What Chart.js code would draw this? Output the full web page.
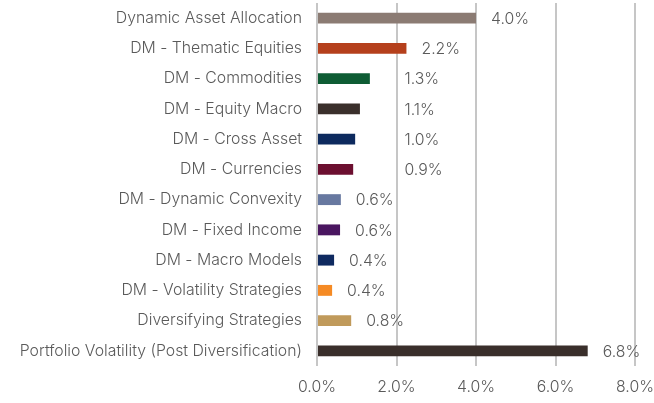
<!DOCTYPE html>
<html lang="en">
<head>
<meta charset="UTF-8">
<title>Volatility contribution</title>
<style>
  html, body { margin: 0; padding: 0; background: #fff; }
  .chartBox { width: 654px; height: 403px; }
</style>
</head>
<body>
<div class="chartBox"><canvas id="myChart" width="654" height="403"></canvas></div>
<script src="https://cdn.jsdelivr.net/npm/chart.js"></script>
<script>
const categories = [
  'Dynamic Asset Allocation',
  'DM - Thematic Equities',
  'DM - Commodities',
  'DM - Equity Macro',
  'DM - Cross Asset',
  'DM - Currencies',
  'DM - Dynamic Convexity',
  'DM - Fixed Income',
  'DM - Macro Models',
  'DM - Volatility Strategies',
  'Diversifying Strategies',
  'Portfolio Volatility (Post Diversification)'
];
// values in %
const values = [4.0, 2.25, 1.33, 1.08, 0.96, 0.91, 0.60, 0.58, 0.43, 0.38, 0.86, 6.81];
const shownLabels = ['4.0%', '2.2%', '1.3%', '1.1%', '1.0%', '0.9%', '0.6%', '0.6%', '0.4%', '0.4%', '0.8%', '6.8%'];
const barColors = ['#8b7b73', '#b5401c', '#0e5c34', '#3a2f2b', '#0d2a5e', '#6c0f30',
  '#6778a0', '#4a1660', '#0f2a60', '#f58a24', '#c09a5b', '#3a2f2b'];
const xTicks = [0, 2, 4, 6, 8];

const FONT = "Inter, 'Noto Sans', sans-serif";
const FSIZE = 15.8;
const TEXT = '#5a5a5a';

// value labels right of each bar; moved past a gridline if it would cut through the digits
const valueLabels = {
  id: 'valueLabels',
  afterDatasetsDraw(chart) {
    const ctx = chart.ctx;
    const xs = chart.scales.x;
    const gridX = xTicks.map(t => xs.getPixelForValue(t));
    ctx.save();
    ctx.font = '300 ' + FSIZE + 'px ' + FONT;
    ctx.fillStyle = TEXT;
    ctx.textBaseline = 'middle';
    chart.getDatasetMeta(0).data.forEach((bar, i) => {
      const txt = shownLabels[i];
      let x = bar.x + 15;
      gridX.forEach(g => {
        if (g > x && g - x < 29.5) x = g + 8;
      });
      ctx.fillText(txt, x, bar.y + 1);
    });
    ctx.restore();
  }
};

const noPad = s => { s.paddingTop = 0; s.paddingBottom = 0; s.paddingLeft = 0; s.paddingRight = 0; };

const ctx = document.getElementById('myChart').getContext('2d');
new Chart(ctx, {
  type: 'bar',
  data: {
    labels: categories,
    datasets: [{
      data: values,
      backgroundColor: barColors,
      borderWidth: 0,
      barPercentage: 0.36,
      categoryPercentage: 1
    }]
  },
  options: {
    indexAxis: 'y',
    responsive: false,
    animation: false,
    devicePixelRatio: 1,
    layout: { padding: { top: 3, right: 19, left: 0, bottom: 0 } },
    plugins: { legend: { display: false }, tooltip: { enabled: false } },
    scales: {
      x: {
        min: 0, max: 8,
        afterBuildTicks: s => { s.ticks = xTicks.map(v => ({ value: v })); },
        afterFit: s => { s.height = 37; noPad(s); },
        grid: { color: '#c6c6c6', lineWidth: 2, drawTicks: false },
        border: { display: false },
        ticks: {
          padding: 12,
          color: TEXT,
          font: { family: FONT, size: FSIZE, weight: 300 },
          callback: v => v.toFixed(1) + '%'
        }
      },
      y: {
        afterFit: s => { s.width = 317; noPad(s); },
        grid: { display: false, drawTicks: false },
        border: { display: false },
        ticks: {
          padding: 15,
          color: TEXT,
          font: { family: FONT, size: FSIZE, weight: 300 }
        }
      }
    }
  },
  plugins: [valueLabels]
});
</script>
</body>
</html>
